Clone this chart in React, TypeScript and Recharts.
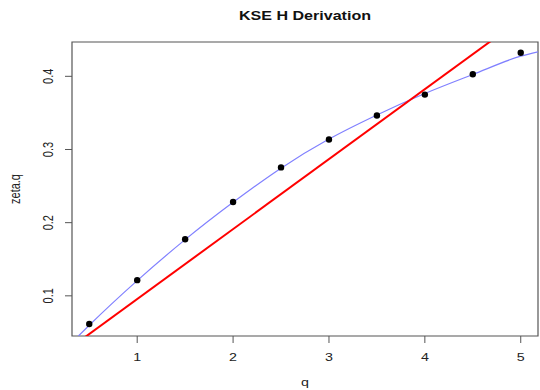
import React from "react";
import { ComposedChart, Line, Scatter, XAxis, YAxis, ReferenceArea } from "recharts";

const qValues = [0.5, 1, 1.5, 2, 2.5, 3, 3.5, 4, 4.5, 5];
const zetaValues = [0.0614, 0.1214, 0.1774, 0.2282, 0.2755, 0.3137, 0.3464, 0.375, 0.4028, 0.4323];

const fitQ = [0.387, 0.5, 1, 1.5, 2, 2.5, 3, 3.5, 4, 4.5, 5, 5.18];
const fitZeta = [0.0451, 0.0598, 0.1208, 0.1768, 0.2278, 0.2745, 0.3142, 0.3472, 0.3765, 0.4025, 0.4275, 0.4335];

const hQ = [0.32, 5.18];
const hZeta = [0.0306, 0.4952];

const xTicks = [1, 2, 3, 4, 5];
const yTicks = [0.1, 0.2, 0.3, 0.4];
const xDomain: [number, number] = [0.32, 5.18];
const yDomain: [number, number] = [0.0451, 0.4469];

const pointData = qValues.map((q, i) => ({ q, v: zetaValues[i] }));
const fitData = fitQ.map((q, i) => ({ q, v: fitZeta[i] }));
const hData = hQ.map((q, i) => ({ q, v: hZeta[i] }));

const FONT = "'Liberation Sans', Arial, Helvetica, sans-serif";
const SX = 1.3;

const XTick = (props: any) => {
  const { x, y, payload } = props;
  return (
    <text
      transform={`translate(${x},${y + 12}) scale(${SX},1)`}
      textAnchor="middle"
      dominantBaseline="central"
      fontFamily={FONT}
      fontSize={11}
      fill="#222"
    >
      {String(payload.value)}
    </text>
  );
};

const YTick = (props: any) => {
  const { x, y, payload } = props;
  return (
    <text
      transform={`translate(${x - 15},${y}) scale(${SX},1) rotate(-90)`}
      textAnchor="middle"
      dominantBaseline="central"
      fontFamily={FONT}
      fontSize={11}
      fill="#222"
    >
      {String(payload.value)}
    </text>
  );
};

const Dot = (props: any) => {
  const { cx, cy } = props;
  return <circle cx={cx} cy={cy} r={3.2} fill="#000" />;
};

export default function App() {
  return (
    <div style={{ position: "absolute", left: 0, top: 0, width: 540, height: 390, background: "#fff" }}>
      <ComposedChart
        width={540}
        height={390}
        margin={{ top: 42, right: 2, bottom: 0, left: 0 }}
      >
        <XAxis
          type="number"
          dataKey="q"
          domain={xDomain}
          ticks={xTicks}
          allowDataOverflow
          height={54}
          axisLine={false}
          tickSize={7}
          tickLine={{ stroke: "#555" }}
          tick={<XTick />}
        />
        <YAxis
          type="number"
          dataKey="v"
          domain={yDomain}
          ticks={yTicks}
          allowDataOverflow
          width={72}
          axisLine={false}
          tickSize={7}
          tickLine={{ stroke: "#555" }}
          tick={<YTick />}
        />
        <ReferenceArea
          x1={xDomain[0]}
          x2={xDomain[1]}
          y1={yDomain[0]}
          y2={yDomain[1]}
          fill="none"
          fillOpacity={0}
          stroke="#555"
          strokeWidth={1.2}
          ifOverflow="visible"
        />
        <Line
          data={fitData}
          dataKey="v"
          type="monotone"
          stroke="#8080ff"
          strokeWidth={1.2}
          dot={false}
          activeDot={false}
          isAnimationActive={false}
        />
        <Line
          data={hData}
          dataKey="v"
          type="linear"
          stroke="#ff0000"
          strokeWidth={2}
          dot={false}
          activeDot={false}
          isAnimationActive={false}
        />
        <Scatter data={pointData} dataKey="v" shape={<Dot />} isAnimationActive={false} />
      </ComposedChart>
      <svg
        width={540}
        height={390}
        style={{ position: "absolute", left: 0, top: 0, pointerEvents: "none" }}
      >
        <text
          transform={`translate(305,16) scale(1.34,1)`}
          textAnchor="middle"
          dominantBaseline="central"
          fontFamily={FONT}
          fontWeight="bold"
          fontSize={12}
          fill="#111"
        >
          KSE H Derivation
        </text>
        <text
          transform={`translate(305,382) scale(${SX},1)`}
          textAnchor="middle"
          dominantBaseline="central"
          fontFamily={FONT}
          fontSize={11}
          fill="#222"
        >
          q
        </text>
        <text
          transform={`translate(15,189) scale(${SX},1) rotate(-90)`}
          textAnchor="middle"
          dominantBaseline="central"
          fontFamily={FONT}
          fontSize={11}
          fill="#222"
        >
          zeta.q
        </text>
      </svg>
    </div>
  );
}
